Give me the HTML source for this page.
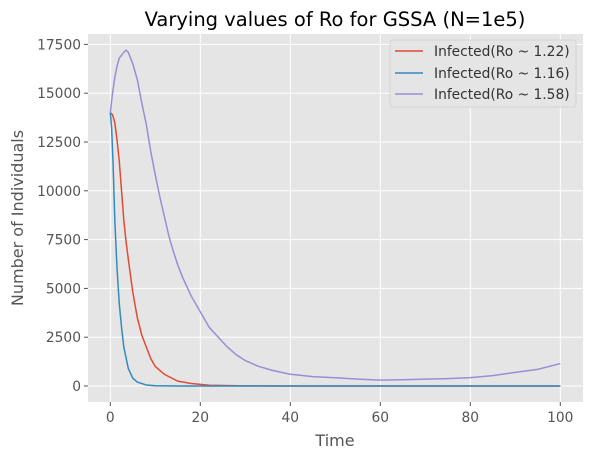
<!DOCTYPE html>
<html><head><meta charset="utf-8"><style>
body{margin:0;background:#fff;font-family:"DejaVu Sans","Liberation Sans",sans-serif;}
svg text{font-family:"DejaVu Sans","Liberation Sans",sans-serif;}
</style></head><body>
<svg id="chart" width="593" height="460" xmlns="http://www.w3.org/2000/svg">
<rect x="88" y="34" width="495" height="368" fill="#e5e5e5"/>
<g id="grid"></g>
<g id="ticks"></g>
<g id="series"></g>
<text x="335" y="26" font-size="19.5" text-anchor="middle" fill="#000">Varying values of Ro for GSSA (N=1e5)</text>
<text x="335" y="446" font-size="16" text-anchor="middle" fill="#555">Time</text>
<text x="23" y="218" font-size="16" text-anchor="middle" fill="#555" transform="rotate(-90 23 218)">Number of Individuals</text>
<g>
<rect x="390" y="40" width="186" height="67" rx="3" fill="#e5e5e5" stroke="#cccccc" stroke-width="0.8" opacity="0.9"/>
<line x1="395" y1="51" x2="423" y2="51" stroke="#E24A33" stroke-width="1.5"/>
<text x="434" y="56" font-size="13.8" fill="#333">Infected(Ro ~ 1.22)</text>
<line x1="395" y1="73" x2="423" y2="73" stroke="#348ABD" stroke-width="1.5"/>
<text x="434" y="78" font-size="13.8" fill="#333">Infected(Ro ~ 1.16)</text>
<line x1="395" y1="94" x2="423" y2="94" stroke="#988ED5" stroke-width="1.5"/>
<text x="434" y="99" font-size="13.8" fill="#333">Infected(Ro ~ 1.58)</text>
</g>
</svg>
<script>
const xTicks=[0,20,40,60,80,100];
const yTicks=[0,2500,5000,7500,10000,12500,15000,17500];
const redT=[0,0.5,1,1.5,2,2.5,3,3.5,4,5,6,7,8,9,10,12,15,18,22,30,40,100];
const redV=[14000,13900,13500,12600,11500,10000,8500,7400,6500,4800,3500,2600,2000,1400,1000,600,250,130,40,5,0,0];
const blueT=[0,0.3,0.6,1,1.5,2,2.5,3,4,5,6,8,10,15,100];
const blueV=[14000,13200,11500,8500,6000,4200,3000,2000,900,400,200,50,10,0,0];
const purT=[0,0.5,1,1.5,2,3,3.5,4,5,6,7,8,9,10,11,12,13,14,15,16,17,18,20,22,24,26,28,30,33,36,40,45,50,55,60,65,70,75,80,85,90,95,100];
const purV=[14000,15000,15800,16400,16800,17100,17200,17100,16500,15700,14500,13400,12000,10800,9700,8700,7700,6900,6200,5600,5100,4600,3800,3000,2500,2000,1600,1300,1000,800,600,480,420,350,300,320,350,380,430,530,700,850,1150];
const NS='http://www.w3.org/2000/svg';
const xs=t=>110.3+t*4.5;
const ys=v=>386-v*(48.8/2500);
const grid=document.getElementById('grid'),ticks=document.getElementById('ticks'),ser=document.getElementById('series');
function mk(tag,attrs,parent){const e=document.createElementNS(NS,tag);for(const k in attrs)e.setAttribute(k,attrs[k]);parent.appendChild(e);return e;}
xTicks.forEach(t=>{
 const g=mk('line',{x1:xs(t),x2:xs(t),y1:34,y2:402,stroke:'#fff','stroke-width':1},grid);
 
 
 mk('line',{x1:xs(t),x2:xs(t),y1:402,y2:406,stroke:'#555'},ticks);
 const l=mk('text',{x:xs(t),y:422,'font-size':13.8,'text-anchor':'middle',fill:'#555'},ticks);
 l.textContent=t;
 
 
});
yTicks.forEach(v=>{
 const g=mk('line',{x1:88,x2:583,y1:ys(v),y2:ys(v),stroke:'#fff','stroke-width':1},grid);
 
 
 mk('line',{x1:84,x2:88,y1:ys(v),y2:ys(v),stroke:'#555'},ticks);
 const l=mk('text',{x:81,y:ys(v)+5,'font-size':13.8,'text-anchor':'end',fill:'#555'},ticks);
 l.textContent=v;
 
 
});
function line(T,V,color,name){
 const p=mk('polyline',{points:T.map((t,i)=>xs(t)+','+ys(V[i])).join(' '),fill:'none',stroke:color,'stroke-width':1.5},ser);
 
 
}
line(redT,redV,'#E24A33','series-ro-1-22');
line(blueT,blueV,'#348ABD','series-ro-1-16');
line(purT,purV,'#988ED5','series-ro-1-58');
</script>
</body></html>
